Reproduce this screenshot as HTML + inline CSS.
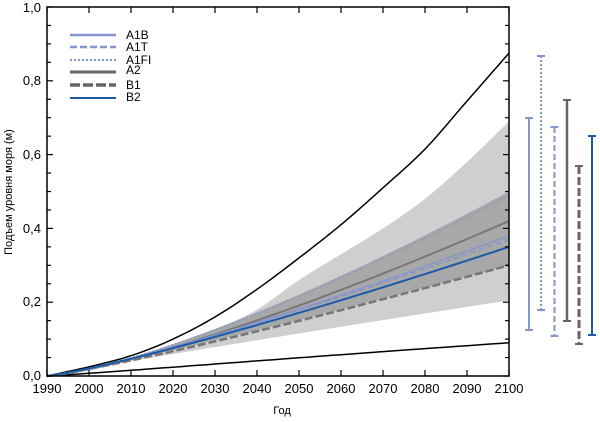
<!DOCTYPE html>
<html><head><meta charset="utf-8"><style>
html,body{margin:0;padding:0;background:#fff;}
svg{display:block;font-family:"Liberation Sans",Arial,sans-serif;}
</style></head><body>
<svg id="s" width="600" height="422" viewBox="0 0 600 422" xmlns="http://www.w3.org/2000/svg">
<g id="bands"></g>
<g id="lines"></g>
<rect x="47" y="7" width="462" height="369" fill="none" stroke="#000" stroke-width="1.5"/>
<g id="ticks" stroke="#000" stroke-width="1.2"></g>
<g font-size="13" fill="#000" text-anchor="end">
<text x="41" y="380">0,0</text><text x="41" y="306">0,2</text><text x="41" y="233">0,4</text>
<text x="41" y="159">0,6</text><text x="41" y="85">0,8</text><text x="41" y="12">1,0</text>
</g>
<g id="xl" font-size="13" fill="#000" text-anchor="middle"></g>
<text x="282" y="414" font-size="11" text-anchor="middle">Год</text>
<text transform="translate(12,192) rotate(-90)" font-size="11" text-anchor="middle">Подъем уровня моря (м)</text>
<g font-size="12">
<line x1="70" y1="35" x2="116" y2="35" stroke="#8596cc" stroke-width="2.5"/><text x="126" y="39">A1B</text>
<line x1="70" y1="47" x2="116" y2="47" stroke="#8596cc" stroke-width="2.5" stroke-dasharray="7,3"/><text x="126" y="51">A1T</text>
<line x1="70" y1="60" x2="116" y2="60" stroke="#8596cc" stroke-width="2" stroke-dasharray="2,2"/><text x="126" y="64">A1FI</text>
<line x1="70" y1="72" x2="116" y2="72" stroke="#666" stroke-width="3"/><text x="126" y="74">A2</text>
<line x1="70" y1="85" x2="116" y2="85" stroke="#666" stroke-width="3.5" stroke-dasharray="10,3"/><text x="126" y="89">B1</text>
<line x1="70" y1="98" x2="116" y2="98" stroke="#1a5aa8" stroke-width="2"/><text x="126" y="101">B2</text>
</g>
<g id="eb"></g>
</svg>
<script>
(function(){
const X=t=>47+(t-1990)*4.2, Y=v=>376-v*369;
function pts(v,p){let a=[];for(let t=1990;t<=2100;t+=2){a.push([X(t),Y(v*Math.pow((t-1990)/110,p))]);}return a;}
function tab(arr){let a=[];const n=arr.length;const g=k=>k<0?2*arr[0]-arr[1]:(k>n-1?2*arr[n-1]-arr[n-2]:arr[k]);
 for(let t=1990;t<=2100;t+=1){let u=(t-1990)/10,i=Math.min(Math.floor(u),n-2),f=u-i;
 let p0=g(i-1),p1=g(i),p2=g(i+1),p3=g(i+2);
 let v=0.5*((2*p1)+(-p0+p2)*f+(2*p0-5*p1+4*p2-p3)*f*f+(-p0+3*p1-3*p2+p3)*f*f*f);
 a.push([X(t),Y(v)]);}return a;}
function path(a){return 'M'+a.map(q=>q[0].toFixed(1)+','+q[1].toFixed(1)).join(' L');}
function band(u,l,fill){return `<path d="${path(u)} L${path(l.slice().reverse()).slice(1)} Z" fill="${fill}"/>`;}
document.getElementById('bands').innerHTML=band(tab([0,.02,.045,.08,.125,.18,.26,.33,.40,.48,.58,.69]),pts(0.205,0.95),'#cfcfcf')+band(pts(0.5,1.35),pts(0.3,1.12),'#a8a8a8');
let h='';
const ln=(v,p,c,w,d)=>`<path d="${path(pts(v,p))}" fill="none" stroke="${c}" stroke-width="${w}" ${d?'stroke-dasharray="'+d+'"':''}/>`;
h+=`<path d="${path(tab([0,.025,.055,.10,.16,.235,.32,.41,.51,.615,.745,.875]))}" fill="none" stroke="#000" stroke-width="1.5"/>`;
let lo=[];for(let t=1990;t<=2100;t+=2){let s=(t-1990)/110;lo.push([X(t),Y(0.09*Math.pow(s,1.1)*(1.15-0.15*s))]);}
h+=`<path d="${path(lo)}" fill="none" stroke="#000" stroke-width="1.5"/>`;
h+=ln(0.30,1.15,'#777',2.5,'8,3');
h+=ln(0.42,1.3,'#777',2);
h+=ln(0.49,1.35,'#8596cc',1.5,'2,2');
h+=ln(0.38,1.22,'#8596cc',1.5);
h+=ln(0.37,1.2,'#8596cc',1.5,'6,3');
h+=ln(0.35,1.18,'#1a5aa8',2);
document.getElementById('lines').innerHTML=h;
let T='',XL='';
for(let t=1990;t<=2100;t+=10){let x=X(t);T+=`<line x1="${x}" y1="376" x2="${x}" y2="370"/><line x1="${x}" y1="7" x2="${x}" y2="13"/>`;XL+=`<text x="${x}" y="393">${t}</text>`;}
for(let i=0;i<=20;i++){let y=Y(i*0.05),w=i%4==0?6:4;T+=`<line x1="47" y1="${y}" x2="${47+w}" y2="${y}"/><line x1="509" y1="${y}" x2="${509-w}" y2="${y}"/>`;}
document.getElementById('ticks').innerHTML=T;document.getElementById('xl').innerHTML=XL;
const E=[[529,118,330,'#8596cc',2,''],[541,56,310,'#8596cc',2,'2,2'],[554.5,127,336,'#8596cc',2,'6,3'],[567,100,321,'#666',2.5,''],[579,166,344,'#666',3,'8,3'],[592,136,335,'#1a5aa8',2,'']];
let eh='';for(const [x,t,bm,c,w,d] of E){eh+=`<line x1="${x}" y1="${t}" x2="${x}" y2="${bm}" stroke="${c}" stroke-width="${w}" ${d?'stroke-dasharray="'+d+'"':''}/><line x1="${x-4}" y1="${t}" x2="${x+4}" y2="${t}" stroke="${c}" stroke-width="2"/><line x1="${x-4}" y1="${bm}" x2="${x+4}" y2="${bm}" stroke="${c}" stroke-width="2"/>`;}
document.getElementById('eb').innerHTML=eh;
})();
</script>
</body></html>
